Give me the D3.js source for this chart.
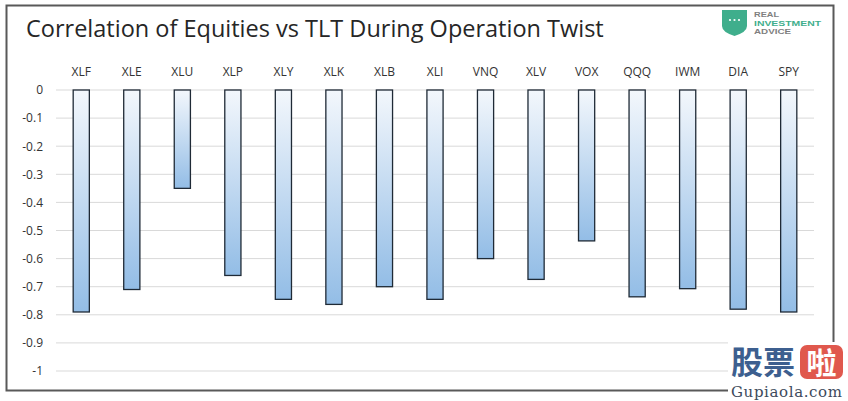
<!DOCTYPE html>
<html><head><meta charset="utf-8">
<script src="https://cdn.jsdelivr.net/npm/d3@7/dist/d3.min.js"></script>
<style>body{margin:0;background:#fff;}svg{display:block;}</style>
</head><body>
<svg id="c" width="848" height="401"></svg>
<script>
const categories = ["XLF","XLE","XLU","XLP","XLY","XLK","XLB","XLI","VNQ","XLV","VOX","QQQ","IWM","DIA","SPY"];
const values = [-0.79,-0.71,-0.35,-0.66,-0.745,-0.763,-0.70,-0.745,-0.60,-0.674,-0.537,-0.736,-0.707,-0.78,-0.79];
const yTicks = [0,-0.1,-0.2,-0.3,-0.4,-0.5,-0.6,-0.7,-0.8,-0.9,-1];
const yTickLabels = ["0","-0.1","-0.2","-0.3","-0.4","-0.5","-0.6","-0.7","-0.8","-0.9","-1"];
const title = "Correlation of Equities vs TLT During Operation Twist";

const svg = d3.select("#c");
const defs = svg.append("defs");
const grad = defs.append("linearGradient").attr("id","bg").attr("x1",0).attr("y1",0).attr("x2",0).attr("y2",1);
grad.append("stop").attr("offset","0%").attr("stop-color","#f3f7fc");
grad.append("stop").attr("offset","100%").attr("stop-color","#93bde6");

// border
svg.append("rect").attr("x",6.5).attr("y",5.5).attr("width",827).attr("height",385)
  .attr("fill","#fff").attr("stroke","#595959").attr("stroke-width",2);

svg.append("text").attr("x",26).attr("y",37).text(title)
  .attr("font-family","'Open Sans', 'Liberation Sans', sans-serif").attr("font-size",23.5).attr("fill","#262626");

const x = d3.scaleBand().domain(categories).range([56,814]).paddingInner(0.68).paddingOuter(0.34);
const y = d3.scaleLinear().domain([-1,0]).range([371,90]);

// gridlines
svg.append("g").selectAll("line").data(yTicks).join("line")
  .attr("x1",56).attr("x2",814).attr("y1",d=>y(d)).attr("y2",d=>y(d))
  .attr("stroke","#d9d9d9").attr("stroke-width",1);

// y axis labels
const yAxis = d3.axisLeft(y).tickValues(yTicks).tickFormat((d,i)=>yTickLabels[i]).tickSize(0).tickPadding(0);
const gy = svg.append("g").attr("transform","translate(43,0)").call(yAxis);
gy.select(".domain").remove();
gy.selectAll("text").attr("font-family","'Open Sans', 'Liberation Sans', sans-serif").attr("font-size",12).attr("fill","#333");

// category labels on top
const xAxis = d3.axisTop(x).tickSize(0).tickPadding(0);
const gx = svg.append("g").attr("transform","translate(0,76)").call(xAxis);
gx.select(".domain").remove();
gx.selectAll("text").attr("font-family","'Open Sans', 'Liberation Sans', sans-serif").attr("font-size",12).attr("fill","#333");

// bars
svg.append("g").selectAll("rect").data(values).join("rect")
  .attr("x",(d,i)=>x(categories[i]))
  .attr("width",x.bandwidth())
  .attr("y",y(0))
  .attr("height",d=>y(d)-y(0))
  .attr("fill","url(#bg)")
  .attr("stroke","#1f2a36").attr("stroke-width",1.3);

// logo
const lg = svg.append("g");
lg.append("path").attr("d","M722,10 L747,10 L747,26 Q747,32 734.5,36 Q722,32 722,26 Z").attr("fill","#3fae8c");
[730,734.5,739].forEach(cx=>lg.append("circle").attr("cx",cx).attr("cy",20).attr("r",1.1).attr("fill","#fff"));
const lt = [["REAL","#7f7f7f",17,25],["INVESTMENT","#3fae8c",25.5,67],["ADVICE","#7f7f7f",34,37]];
lt.forEach(t=>lg.append("text").attr("x",754).attr("y",t[2]).text(t[0]).attr("fill",t[1])
  .attr("font-family","'Liberation Sans', sans-serif").attr("font-size",8).attr("font-weight","bold")
  .attr("textLength",t[3]).attr("lengthAdjust","spacingAndGlyphs"));

// watermark
const wm = svg.append("g");
wm.append("rect").attr("x",728).attr("y",342).attr("width",120).attr("height",59).attr("fill","#fff");
wm.append("text").attr("x",731).attr("y",374).text("股票").attr("fill","#3d5f8f")
  .attr("font-family","'Noto Sans CJK SC', sans-serif").attr("font-size",32).attr("font-weight","bold");
wm.append("rect").attr("x",800).attr("y",345).attr("width",43).attr("height",34).attr("rx",7).attr("fill","#e0584d");
wm.append("text").attr("x",821.5).attr("y",374).attr("text-anchor","middle").text("啦").attr("fill","#fff")
  .attr("font-family","'Noto Sans CJK SC', sans-serif").attr("font-size",30).attr("font-weight","bold");
wm.append("text").attr("x",731).attr("y",397).text("Gupiaola.com").attr("fill","#3d4a5c")
  .attr("font-family","'DejaVu Serif', 'Liberation Serif', serif").attr("font-size",15).attr("textLength",111);
</script>
</body></html>
